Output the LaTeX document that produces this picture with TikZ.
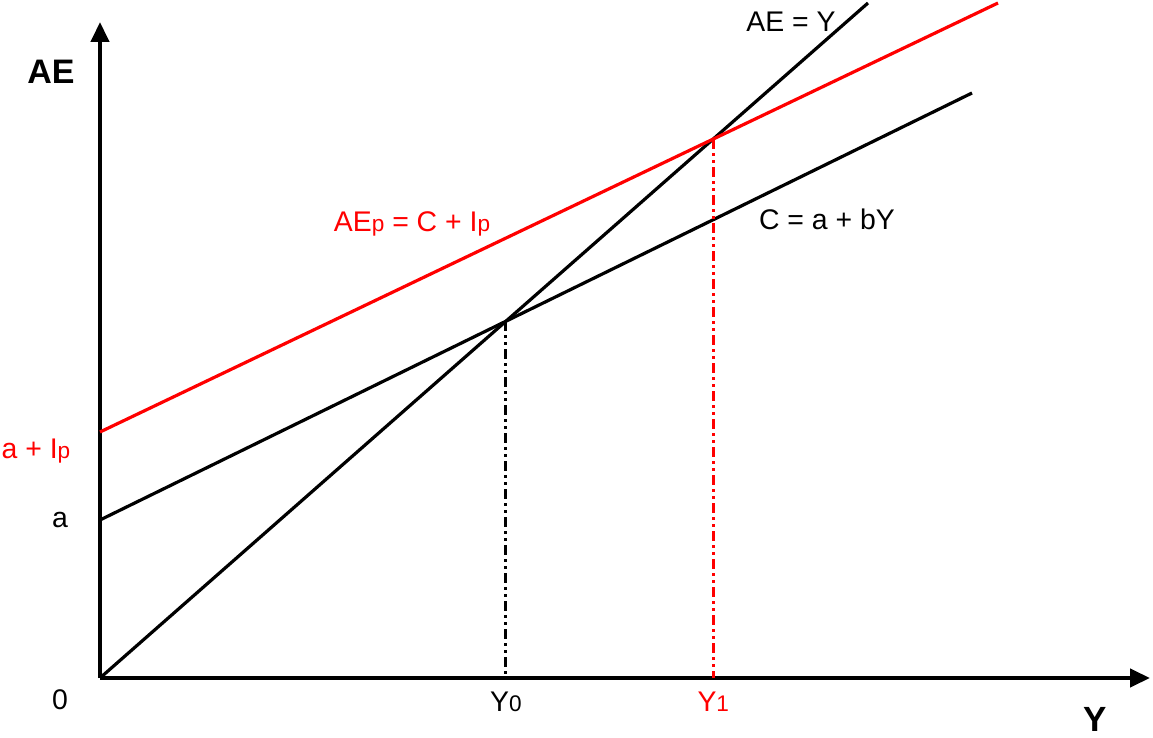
\documentclass[tikz,border=0pt]{standalone}
\usepackage{fontspec}
\setmainfont{Liberation Sans}
\usetikzlibrary{arrows.meta}
\newcommand{\idx}[1]{{\fontsize{11.3}{11.3}\selectfont #1}}

\begin{document}
\begin{tikzpicture}
  [x=0.5pt,y=-0.5pt,
   axis/.style={line width=2.1pt,-{Triangle[length=10pt,width=9pt]}},
   curve/.style={line width=1.6pt},
   drop/.style={line width=1.5pt,dash pattern=on 5pt off 2pt on 1.5pt off 2pt on 1.5pt off 2pt},
   every node/.style={inner sep=0pt,font=\fontsize{14.2}{16}\selectfont}]
  \useasboundingbox (0,0) rectangle (1153,738);

  % axes
  \coordinate (o) at (100,678);
  \coordinate (ytop) at (100,22);
  \coordinate (xend) at (1150,678);
  \draw[axis] (o) -- (ytop);
  \draw[axis] (o) -- (xend);

  % lines
  \coordinate (t45) at (868,3);
  \coordinate (ca) at (100,520);
  \coordinate (cend) at (972,93);
  \coordinate (ra) at (100,432);
  \coordinate (rend) at (998,3);
  \draw[curve] (o) -- (t45);
  \draw[curve] (ca) -- (cend);
  \draw[curve,red] (ra) -- (rend);

  % equilibria
  \coordinate (e0) at (intersection of o--t45 and ca--cend);
  \coordinate (e1) at (intersection of o--t45 and ra--rend);
  \draw[drop] (e0) -- (e0 |- o);
  \draw[drop,red] (e1) -- (e1 |- o);

  % labels
  \node (lae) at (51,72) {\fontsize{17}{18}\selectfont\bfseries AE};
  \node (ly) at (1095,719) {\fontsize{17.5}{18}\selectfont\bfseries Y};
  \node (l0) at (60,700) {0};
  \node (la) at (60,520) {a};
  \node[red] (lai) at (36,451) {a + I\idx{p}};
  \node (ly0) at (e0 |- 0,702) {Y\idx{0}};
  \node[red] (ly1) at (e1 |- 0,702) {Y\idx{1}};
  \node (l45) at (791,22) {AE = Y};
  \node (lc) at (827,219) {C = a + bY};
  \node[red] (lr) at (412,224) {AE\idx{p} = C + I\idx{p}};
\end{tikzpicture}
\end{document}
